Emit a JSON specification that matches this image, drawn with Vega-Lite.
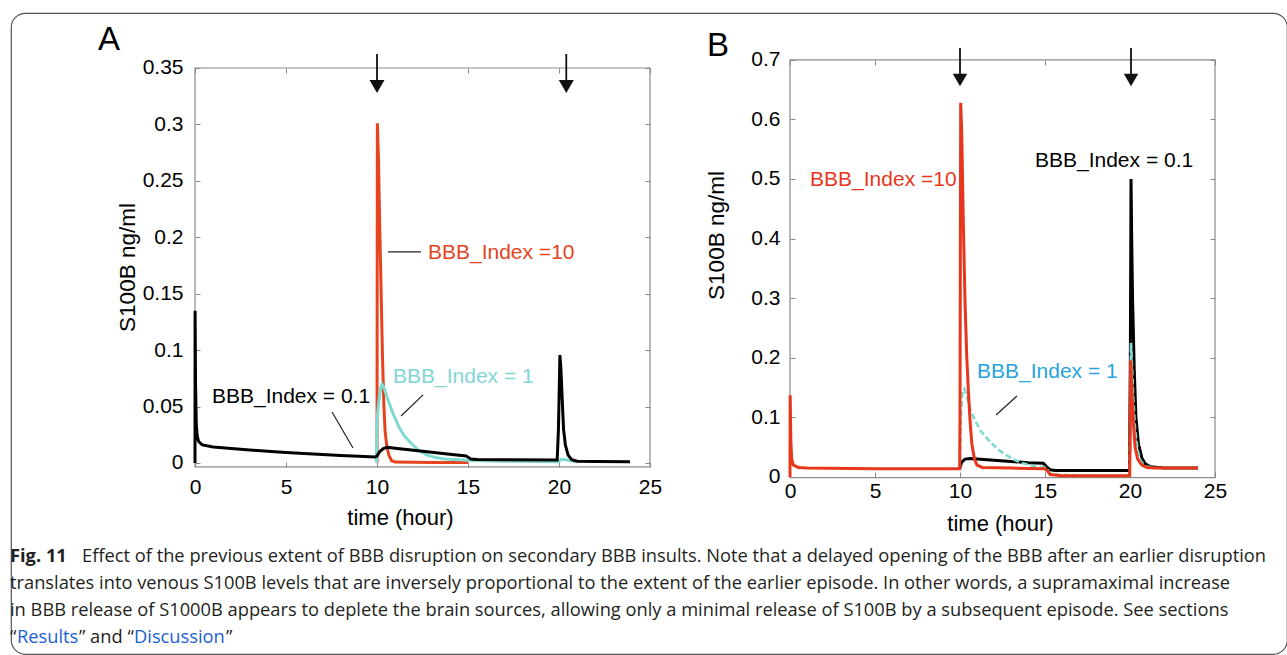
{
"$schema":"https://vega.github.io/schema/vega-lite/v6.json",
"width":1276,"height":641,
"autosize":{"type":"none"},
"padding":{"left":11,"top":13,"right":0,"bottom":1},
"background":"white",
"config":{"font":"Liberation Sans","view":{"stroke":"#555555","strokeWidth":1.2,"cornerRadius":14}},
"datasets":{
"A_black":[{"t":0,"v":0},{"t":0.005,"v":0.135},{"t":0.03,"v":0.07},{"t":0.07,"v":0.035},{"t":0.12,"v":0.024},{"t":0.2,"v":0.019},{"t":0.4,"v":0.016},{"t":1,"v":0.0142},{"t":2,"v":0.0128},{"t":3,"v":0.0115},{"t":4,"v":0.0104},{"t":5,"v":0.0094},{"t":6,"v":0.0084},{"t":7,"v":0.0075},{"t":8,"v":0.0067},{"t":9,"v":0.006},{"t":9.9,"v":0.0054},{"t":10.0,"v":0.0062},{"t":10.15,"v":0.0102},{"t":10.35,"v":0.0128},{"t":10.55,"v":0.014},{"t":11,"v":0.0131},{"t":12,"v":0.0113},{"t":13,"v":0.0096},{"t":14,"v":0.0078},{"t":14.9,"v":0.0063},{"t":15.0,"v":0.0052},{"t":15.15,"v":0.0036},{"t":15.5,"v":0.003},{"t":17,"v":0.0028},{"t":19.9,"v":0.0027},{"t":19.97,"v":0.03},{"t":20.05,"v":0.0957},{"t":20.1,"v":0.085},{"t":20.18,"v":0.055},{"t":20.25,"v":0.03},{"t":20.35,"v":0.016},{"t":20.5,"v":0.007},{"t":20.7,"v":0.003},{"t":21,"v":0.0016},{"t":22,"v":0.0013},{"t":23.9,"v":0.0012}],
"A_red":[{"t":10.0,"v":0},{"t":10.02,"v":0.301},{"t":10.08,"v":0.27},{"t":10.15,"v":0.21},{"t":10.23,"v":0.15},{"t":10.3,"v":0.095},{"t":10.38,"v":0.05},{"t":10.45,"v":0.027},{"t":10.55,"v":0.014},{"t":10.65,"v":0.007},{"t":10.8,"v":0.002},{"t":11,"v":0.0008},{"t":13,"v":0.0005},{"t":15,"v":0.0005}],
"A_cyan":[{"t":9.97,"v":0},{"t":10.0,"v":0.038},{"t":10.1,"v":0.055},{"t":10.2,"v":0.066},{"t":10.27,"v":0.07},{"t":10.4,"v":0.066},{"t":10.6,"v":0.056},{"t":10.9,"v":0.043},{"t":11.2,"v":0.032},{"t":11.5,"v":0.024},{"t":11.9,"v":0.017},{"t":12.3,"v":0.011},{"t":12.75,"v":0.007},{"t":13.2,"v":0.005},{"t":13.7,"v":0.0035},{"t":14.5,"v":0.0028},{"t":15.3,"v":0.0022},{"t":17,"v":0.0015},{"t":20,"v":0.0012},{"t":20.1,"v":0.003},{"t":20.3,"v":0.003},{"t":21,"v":0.001}],
"B_black":[{"t":9.9,"v":0.014},{"t":10.0,"v":0.015},{"t":10.1,"v":0.025},{"t":10.3,"v":0.03},{"t":10.6,"v":0.031},{"t":11,"v":0.03},{"t":12,"v":0.028},{"t":13,"v":0.026},{"t":14,"v":0.024},{"t":14.9,"v":0.023},{"t":15.1,"v":0.017},{"t":15.3,"v":0.012},{"t":15.6,"v":0.011},{"t":17,"v":0.011},{"t":19.97,"v":0.011},{"t":20.02,"v":0.2},{"t":20.06,"v":0.5},{"t":20.1,"v":0.4},{"t":20.15,"v":0.3},{"t":20.25,"v":0.18},{"t":20.35,"v":0.1},{"t":20.5,"v":0.055},{"t":20.7,"v":0.032},{"t":20.9,"v":0.022},{"t":21.2,"v":0.017},{"t":22,"v":0.015},{"t":24,"v":0.015}],
"B_red":[{"t":0,"v":0},{"t":0.01,"v":0.137},{"t":0.05,"v":0.06},{"t":0.1,"v":0.03},{"t":0.2,"v":0.02},{"t":0.5,"v":0.016},{"t":1,"v":0.015},{"t":5,"v":0.014},{"t":9.98,"v":0.014},{"t":10.0,"v":0.1},{"t":10.04,"v":0.628},{"t":10.1,"v":0.58},{"t":10.2,"v":0.42},{"t":10.3,"v":0.29},{"t":10.4,"v":0.2},{"t":10.5,"v":0.14},{"t":10.6,"v":0.09},{"t":10.7,"v":0.055},{"t":10.85,"v":0.03},{"t":11,"v":0.02},{"t":11.3,"v":0.016},{"t":13,"v":0.015},{"t":15,"v":0.014},{"t":15.15,"v":0.01},{"t":15.3,"v":0.004},{"t":16,"v":0.002},{"t":18,"v":0.002},{"t":19.98,"v":0.002},{"t":20.0,"v":0.05},{"t":20.04,"v":0.196},{"t":20.1,"v":0.15},{"t":20.2,"v":0.09},{"t":20.3,"v":0.05},{"t":20.45,"v":0.03},{"t":20.7,"v":0.02},{"t":21,"v":0.016},{"t":21.5,"v":0.015},{"t":24,"v":0.015}],
"B_cyan":[{"t":9.9,"v":0.014},{"t":10.0,"v":0.015},{"t":10.05,"v":0.1},{"t":10.15,"v":0.145},{"t":10.25,"v":0.148},{"t":10.4,"v":0.135},{"t":10.6,"v":0.115},{"t":10.8,"v":0.1},{"t":11.2,"v":0.078},{"t":11.8,"v":0.058},{"t":12.3,"v":0.045},{"t":12.7,"v":0.037},{"t":13.2,"v":0.029},{"t":13.7,"v":0.023},{"t":14.2,"v":0.019},{"t":14.7,"v":0.017},{"t":15,"v":0.016},{"t":15.2,"v":0.01},{"t":15.4,"v":0.004},{"t":17,"v":0.003},{"t":19.97,"v":0.003},{"t":20.02,"v":0.1},{"t":20.05,"v":0.225},{"t":20.1,"v":0.2},{"t":20.2,"v":0.13},{"t":20.3,"v":0.08},{"t":20.45,"v":0.045},{"t":20.6,"v":0.028},{"t":20.9,"v":0.018},{"t":21.5,"v":0.015},{"t":24.05,"v":0.015}]
},
"resolve":{"scale":{"x":"independent","y":"independent"}},
"layer":[
 {"data":{"values":[{}]},"mark":{"type":"rect","filled":false,"stroke":"#8a8a8a","strokeWidth":1.2},
  "encoding":{"x":{"datum":0,"type":"quantitative","scale":{"domain":[-10.10989,60.0],"nice":false,"zero":false},
     "axis":{"orient":"top","offset":-55,"values":[0,5,10,15,20,25],"domain":false,"grid":false,"labels":false,"ticks":true,"tickSize":-5,"tickColor":"#888888","title":null}},"x2":{"datum":25},
   "y":{"datum":-0.0035,"type":"quantitative","scale":{"domain":[-0.16924,0.39872],"nice":false,"zero":false},
     "axis":{"orient":"right","offset":-637,"values":[0,0.05,0.1,0.15,0.2,0.25,0.3,0.35],"domain":false,"grid":false,"labels":false,"ticks":true,"tickSize":-5,"tickColor":"#888888","title":null}},"y2":{"datum":0.35}}},
 {"data":{"name":"A_red"},"mark":{"type":"line","color":"#e5441e","strokeWidth":3},
  "encoding":{
   "x":{"field":"t","type":"quantitative","scale":{"domain":[-10.10989,60.0],"nice":false,"zero":false},
     "axis":{"orient":"bottom","offset":-187,"values":[0,5,10,15,20,25],"domain":false,"grid":false,"ticks":true,"tickSize":-5,"tickColor":"#888888","labelPadding":14,"labelFontSize":21,"labelFont":"Liberation Sans","labelColor":"#000000","labelFlush":false,"labelOverlap":false,"title":"time (hour)","titleFont":"Liberation Sans","titleFontSize":22,"titleFontWeight":"normal","titleColor":"#000000","titleX":389,"titleY":50,"titleBaseline":"middle","titleAlign":"center"}},
   "y":{"field":"v","type":"quantitative","scale":{"domain":[-0.16924,0.39872],"nice":false,"zero":false},
     "axis":{"orient":"left","offset":-184,"values":[0,0.05,0.1,0.15,0.2,0.25,0.3,0.35],"labelExpr":"format(datum.value, '.2~f')","domain":false,"grid":false,"ticks":true,"tickSize":-5,"tickColor":"#888888","labelPadding":17,"labelFontSize":21,"labelFont":"Liberation Sans","labelColor":"#000000","labelFlush":false,"labelOverlap":false,"title":"S100B ng/ml","titleFont":"Liberation Sans","titleFontSize":22.5,"titleFontWeight":"normal","titleColor":"#000000","titleX":-68,"titleY":254,"titleBaseline":"middle","titleAlign":"center","titleAngle":-90}}}},
 {"data":{"name":"A_cyan"},"mark":{"type":"line","color":"#7fdad0","strokeWidth":3},
  "encoding":{"x":{"field":"t","type":"quantitative","scale":{"domain":[-10.10989,60.0],"nice":false,"zero":false},"axis":null},"y":{"field":"v","type":"quantitative","scale":{"domain":[-0.16924,0.39872],"nice":false,"zero":false},"axis":null}}},
 {"data":{"name":"A_black"},"mark":{"type":"line","color":"#000000","strokeWidth":3},
  "encoding":{"x":{"field":"t","type":"quantitative","scale":{"domain":[-10.10989,60.0],"nice":false,"zero":false},"axis":null},"y":{"field":"v","type":"quantitative","scale":{"domain":[-0.16924,0.39872],"nice":false,"zero":false},"axis":null}}},
 {"data":{"values":[{"t":10},{"t":20.4}]},"mark":{"type":"rule","color":"#111111","strokeWidth":1.8},
  "encoding":{"x":{"field":"t","type":"quantitative","scale":{"domain":[-10.10989,60.0],"nice":false,"zero":false},"axis":null},"y":{"datum":0.3624,"type":"quantitative","scale":{"domain":[-0.16924,0.39872],"nice":false,"zero":false},"axis":null},"y2":{"datum":0.3376}}},
 {"data":{"values":[{"t":10},{"t":20.4}]},"mark":{"type":"point","shape":"triangle-down","filled":true,"color":"#111111","size":225,"opacity":1,"strokeWidth":0},
  "encoding":{"x":{"field":"t","type":"quantitative","scale":{"domain":[-10.10989,60.0],"nice":false,"zero":false},"axis":null},"y":{"datum":0.3336,"type":"quantitative","scale":{"domain":[-0.16924,0.39872],"nice":false,"zero":false},"axis":null}}},
 {"data":{"values":[{}]},"mark":{"type":"rule","color":"#222222","strokeWidth":1.2},
  "encoding":{"x":{"datum":7.53,"type":"quantitative","scale":{"domain":[-10.10989,60.0],"nice":false,"zero":false},"axis":null},"x2":{"datum":8.68},"y":{"datum":0.0452,"type":"quantitative","scale":{"domain":[-0.16924,0.39872],"nice":false,"zero":false},"axis":null},"y2":{"datum":0.0133}}},
 {"data":{"values":[{}]},"mark":{"type":"rule","color":"#222222","strokeWidth":1.2},
  "encoding":{"x":{"datum":12.53,"type":"quantitative","scale":{"domain":[-10.10989,60.0],"nice":false,"zero":false},"axis":null},"x2":{"datum":11.32},"y":{"datum":0.0603,"type":"quantitative","scale":{"domain":[-0.16924,0.39872],"nice":false,"zero":false},"axis":null},"y2":{"datum":0.0416}}},
 {"data":{"values":[{}]},"mark":{"type":"rule","color":"#222222","strokeWidth":1.2},
  "encoding":{"x":{"datum":10.6,"type":"quantitative","scale":{"domain":[-10.10989,60.0],"nice":false,"zero":false},"axis":null},"x2":{"datum":12.42},"y":{"datum":0.187,"type":"quantitative","scale":{"domain":[-0.16924,0.39872],"nice":false,"zero":false},"axis":null},"y2":{"datum":0.187}}},
 {"data":{"values":[{}]},"mark":{"type":"text","text":"BBB_Index = 0.1","font":"Liberation Sans","fontSize":21,"align":"left","baseline":"middle","color":"#000000"},
  "encoding":{"x":{"datum":0.93,"type":"quantitative","scale":{"domain":[-10.10989,60.0],"nice":false,"zero":false},"axis":null},"y":{"datum":0.0585,"type":"quantitative","scale":{"domain":[-0.16924,0.39872],"nice":false,"zero":false},"axis":null}}},
 {"data":{"values":[{}]},"mark":{"type":"text","text":"BBB_Index = 1","font":"Liberation Sans","fontSize":21,"align":"left","baseline":"middle","color":"#7fd6d4"},
  "encoding":{"x":{"datum":10.88,"type":"quantitative","scale":{"domain":[-10.10989,60.0],"nice":false,"zero":false},"axis":null},"y":{"datum":0.0762,"type":"quantitative","scale":{"domain":[-0.16924,0.39872],"nice":false,"zero":false},"axis":null}}},
 {"data":{"values":[{}]},"mark":{"type":"text","text":"BBB_Index =10","font":"Liberation Sans","fontSize":21,"align":"left","baseline":"middle","color":"#e5441e"},
  "encoding":{"x":{"datum":12.8,"type":"quantitative","scale":{"domain":[-10.10989,60.0],"nice":false,"zero":false},"axis":null},"y":{"datum":0.186,"type":"quantitative","scale":{"domain":[-0.16924,0.39872],"nice":false,"zero":false},"axis":null}}},
 {"data":{"values":[{}]},"mark":{"type":"text","text":"A","font":"Liberation Sans","fontSize":33,"align":"center","baseline":"middle","color":"#000000"},
  "encoding":{"x":{"datum":-4.73,"type":"quantitative","scale":{"domain":[-10.10989,60.0],"nice":false,"zero":false},"axis":null},"y":{"datum":0.3748,"type":"quantitative","scale":{"domain":[-0.16924,0.39872],"nice":false,"zero":false},"axis":null}}},

 {"data":{"values":[{}]},"mark":{"type":"rect","filled":false,"stroke":"#8a8a8a","strokeWidth":1.2},
  "encoding":{"x":{"datum":0,"type":"quantitative","scale":{"domain":[-45.8235,29.2353],"nice":false,"zero":false},
     "axis":{"orient":"top","offset":-47,"values":[0,5,10,15,20,25],"domain":false,"grid":false,"labels":false,"ticks":true,"tickSize":-5,"tickColor":"#888888","title":null}},"x2":{"datum":25},
   "y":{"datum":-0.001,"type":"quantitative","scale":{"domain":[-0.29698,0.77852],"nice":false,"zero":false},
     "axis":{"orient":"right","offset":-72,"values":[0,0.1,0.2,0.3,0.4,0.5,0.6,0.7],"domain":false,"grid":false,"labels":false,"ticks":true,"tickSize":-5,"tickColor":"#888888","title":null}},"y2":{"datum":0.7}}},
 {"data":{"name":"B_black"},"mark":{"type":"line","color":"#000000","strokeWidth":3},
  "encoding":{
   "x":{"field":"t","type":"quantitative","scale":{"domain":[-45.8235,29.2353],"nice":false,"zero":false},
     "axis":{"orient":"bottom","offset":-177,"values":[0,5,10,15,20,25],"domain":false,"grid":false,"ticks":true,"tickSize":-5,"tickColor":"#888888","labelPadding":8,"labelFontSize":21,"labelFont":"Liberation Sans","labelColor":"#000000","labelFlush":false,"labelOverlap":false,"title":"time (hour)","titleFont":"Liberation Sans","titleFontSize":22,"titleFontWeight":"normal","titleColor":"#000000","titleX":989,"titleY":46,"titleBaseline":"middle","titleAlign":"center"}},
   "y":{"field":"v","type":"quantitative","scale":{"domain":[-0.29698,0.77852],"nice":false,"zero":false},
     "axis":{"orient":"left","offset":-779,"values":[0,0.1,0.2,0.3,0.4,0.5,0.6,0.7],"labelExpr":"format(datum.value, '.1~f')","domain":false,"grid":false,"ticks":true,"tickSize":-5,"tickColor":"#888888","labelPadding":15,"labelFontSize":21,"labelFont":"Liberation Sans","labelColor":"#000000","labelFlush":false,"labelOverlap":false,"title":"S100B ng/ml","titleFont":"Liberation Sans","titleFontSize":22.5,"titleFontWeight":"normal","titleColor":"#000000","titleX":-74,"titleY":222,"titleBaseline":"middle","titleAlign":"center","titleAngle":-90}}}},
 {"data":{"name":"B_cyan"},"mark":{"type":"line","color":"#7fdad0","strokeWidth":2.6,"strokeDash":[6,3]},
  "encoding":{"x":{"field":"t","type":"quantitative","scale":{"domain":[-45.8235,29.2353],"nice":false,"zero":false},"axis":null},"y":{"field":"v","type":"quantitative","scale":{"domain":[-0.29698,0.77852],"nice":false,"zero":false},"axis":null}}},
 {"data":{"name":"B_red"},"mark":{"type":"line","color":"#e8361c","strokeWidth":3},
  "encoding":{"x":{"field":"t","type":"quantitative","scale":{"domain":[-45.8235,29.2353],"nice":false,"zero":false},"axis":null},"y":{"field":"v","type":"quantitative","scale":{"domain":[-0.29698,0.77852],"nice":false,"zero":false},"axis":null}}},
 {"data":{"values":[{"t":10},{"t":20.06}]},"mark":{"type":"rule","color":"#111111","strokeWidth":1.8},
  "encoding":{"x":{"field":"t","type":"quantitative","scale":{"domain":[-45.8235,29.2353],"nice":false,"zero":false},"axis":null},"y":{"datum":0.7198,"type":"quantitative","scale":{"domain":[-0.29698,0.77852],"nice":false,"zero":false},"axis":null},"y2":{"datum":0.6745}}},
 {"data":{"values":[{"t":10},{"t":20.06}]},"mark":{"type":"point","shape":"triangle-down","filled":true,"color":"#111111","size":210,"opacity":1,"strokeWidth":0},
  "encoding":{"x":{"field":"t","type":"quantitative","scale":{"domain":[-45.8235,29.2353],"nice":false,"zero":false},"axis":null},"y":{"datum":0.666,"type":"quantitative","scale":{"domain":[-0.29698,0.77852],"nice":false,"zero":false},"axis":null}}},
 {"data":{"values":[{}]},"mark":{"type":"rule","color":"#222222","strokeWidth":1.2},
  "encoding":{"x":{"datum":13.35,"type":"quantitative","scale":{"domain":[-45.8235,29.2353],"nice":false,"zero":false},"axis":null},"x2":{"datum":12.12},"y":{"datum":0.136,"type":"quantitative","scale":{"domain":[-0.29698,0.77852],"nice":false,"zero":false},"axis":null},"y2":{"datum":0.104}}},
 {"data":{"values":[{}]},"mark":{"type":"text","text":"BBB_Index =10","font":"Liberation Sans","fontSize":21,"align":"left","baseline":"middle","color":"#e8361c"},
  "encoding":{"x":{"datum":1.18,"type":"quantitative","scale":{"domain":[-45.8235,29.2353],"nice":false,"zero":false},"axis":null},"y":{"datum":0.498,"type":"quantitative","scale":{"domain":[-0.29698,0.77852],"nice":false,"zero":false},"axis":null}}},
 {"data":{"values":[{}]},"mark":{"type":"text","text":"BBB_Index = 0.1","font":"Liberation Sans","fontSize":21,"align":"left","baseline":"middle","color":"#000000"},
  "encoding":{"x":{"datum":14.41,"type":"quantitative","scale":{"domain":[-45.8235,29.2353],"nice":false,"zero":false},"axis":null},"y":{"datum":0.53,"type":"quantitative","scale":{"domain":[-0.29698,0.77852],"nice":false,"zero":false},"axis":null}}},
 {"data":{"values":[{}]},"mark":{"type":"text","text":"BBB_Index = 1","font":"Liberation Sans","fontSize":21,"align":"left","baseline":"middle","color":"#27a4dc"},
  "encoding":{"x":{"datum":11.0,"type":"quantitative","scale":{"domain":[-45.8235,29.2353],"nice":false,"zero":false},"axis":null},"y":{"datum":0.176,"type":"quantitative","scale":{"domain":[-0.29698,0.77852],"nice":false,"zero":false},"axis":null}}},
 {"data":{"values":[{}]},"mark":{"type":"text","text":"B","font":"Liberation Sans","fontSize":33,"align":"center","baseline":"middle","color":"#000000"},
  "encoding":{"x":{"datum":-4.24,"type":"quantitative","scale":{"domain":[-45.8235,29.2353],"nice":false,"zero":false},"axis":null},"y":{"datum":0.7232,"type":"quantitative","scale":{"domain":[-0.29698,0.77852],"nice":false,"zero":false},"axis":null}}},

 {"data":{"values":[{"line":1,"text":"Fig. 11"}]},"mark":{"type":"text","font":"Open Sans","fontSize":18.3,"fontWeight":"bold","align":"left","baseline":"middle","color":"#231f20"},
  "encoding":{"x":{"value":-1},"y":{"field":"line","type":"quantitative","scale":{"domain":[-19.148,4.5926],"reverse":true,"nice":false,"zero":false},"axis":null},"text":{"field":"text"}}},
 {"data":{"values":[{"line":1,"text":"Effect of the previous extent of BBB disruption on secondary BBB insults. Note that a delayed opening of the BBB after an earlier disruption"}]},"mark":{"type":"text","font":"Open Sans","fontSize":18.3,"align":"left","baseline":"middle","color":"#231f20","dx":72},
  "encoding":{"x":{"value":-1},"y":{"field":"line","type":"quantitative","scale":{"domain":[-19.148,4.5926],"reverse":true,"nice":false,"zero":false},"axis":null},"text":{"field":"text"}}},
 {"data":{"values":[{"line":2,"text":"translates into venous S100B levels that are inversely proportional to the extent of the earlier episode. In other words, a supramaximal increase"},{"line":3,"text":"in BBB release of S1000B appears to deplete the brain sources, allowing only a minimal release of S100B by a subsequent episode. See sections"}]},"mark":{"type":"text","font":"Open Sans","fontSize":18.3,"align":"left","baseline":"middle","color":"#231f20"},
  "encoding":{"x":{"value":-1},"y":{"field":"line","type":"quantitative","scale":{"domain":[-19.148,4.5926],"reverse":true,"nice":false,"zero":false},"axis":null},"text":{"field":"text"}}},
 {"data":{"values":[{"line":4,"text":"“"}]},"mark":{"type":"text","font":"Open Sans","fontSize":18.3,"align":"left","baseline":"middle","color":"#231f20","dx":0},
  "encoding":{"x":{"value":-1},"y":{"field":"line","type":"quantitative","scale":{"domain":[-19.148,4.5926],"reverse":true,"nice":false,"zero":false},"axis":null},"text":{"field":"text"}}},
 {"data":{"values":[{"line":4,"text":"Results"}]},"mark":{"type":"text","font":"Open Sans","fontSize":18.3,"align":"left","baseline":"middle","color":"#1b5fd4","dx":7},
  "encoding":{"x":{"value":-1},"y":{"field":"line","type":"quantitative","scale":{"domain":[-19.148,4.5926],"reverse":true,"nice":false,"zero":false},"axis":null},"text":{"field":"text"}}},
 {"data":{"values":[{"line":4,"text":"” and “"}]},"mark":{"type":"text","font":"Open Sans","fontSize":18.3,"align":"left","baseline":"middle","color":"#231f20","dx":69},
  "encoding":{"x":{"value":-1},"y":{"field":"line","type":"quantitative","scale":{"domain":[-19.148,4.5926],"reverse":true,"nice":false,"zero":false},"axis":null},"text":{"field":"text"}}},
 {"data":{"values":[{"line":4,"text":"Discussion"}]},"mark":{"type":"text","font":"Open Sans","fontSize":18.3,"align":"left","baseline":"middle","color":"#1b5fd4","dx":124},
  "encoding":{"x":{"value":-1},"y":{"field":"line","type":"quantitative","scale":{"domain":[-19.148,4.5926],"reverse":true,"nice":false,"zero":false},"axis":null},"text":{"field":"text"}}},
 {"data":{"values":[{"line":4,"text":"”"}]},"mark":{"type":"text","font":"Open Sans","fontSize":18.3,"align":"left","baseline":"middle","color":"#231f20","dx":216},
  "encoding":{"x":{"value":-1},"y":{"field":"line","type":"quantitative","scale":{"domain":[-19.148,4.5926],"reverse":true,"nice":false,"zero":false},"axis":null},"text":{"field":"text"}}}
]
}
